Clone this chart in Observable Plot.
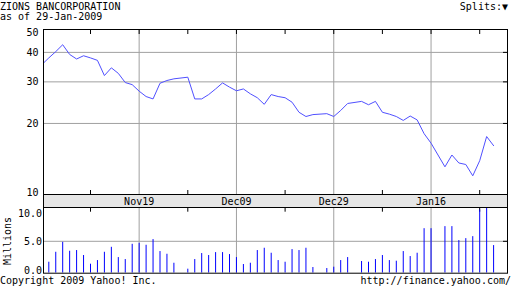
<!DOCTYPE html>
<html>
<head>
<meta charset="utf-8">
<script src="https://cdn.jsdelivr.net/npm/d3@7"></script>
<script src="https://cdn.jsdelivr.net/npm/@observablehq/plot@0.6"></script>
<style>
  html, body { margin: 0; padding: 0; background: #fff; }
  #chart { position: relative; width: 512px; height: 288px; overflow: hidden; background: #fff;
           font-family: "DejaVu Sans Mono", monospace; font-size: 10px; color: #000; }
  #chart svg { position: absolute; left: 0; top: 0; }
  .t { position: absolute; white-space: nowrap; line-height: 10px; }
  #band { position: absolute; left: 43px; top: 194px; width: 465px; height: 14px; box-sizing: border-box;
          background: #e6e6e6; border-left: 1px solid #000; border-right: 1px solid #000; }
</style>
</head>
<body>
<div id="chart">
  <div id="band"></div>
  <div class="t" style="left:0;top:2px">ZIONS BANCORPORATION</div>
  <div class="t" style="left:0;top:12px">as of 29-Jan-2009</div>
  <div class="t" style="right:4px;top:2px">Splits:▼</div>
  <div class="t" style="left:0;top:276px">Copyright 2009 Yahoo! Inc.</div>
  <div class="t" style="right:1px;top:276px">http://finance.yahoo.com/</div>
  <div class="t" style="left:7.5px;top:241px;transform:translate(-50%,-50%) rotate(-90deg)">Millions</div>
</div>
<script>
// ---- data ----
const dates = [
  "2008-10-30","2008-10-31","2008-11-03","2008-11-04","2008-11-05","2008-11-06","2008-11-07",
  "2008-11-10","2008-11-11","2008-11-12","2008-11-13","2008-11-14","2008-11-17","2008-11-18",
  "2008-11-19","2008-11-20","2008-11-21","2008-11-24","2008-11-25","2008-11-26","2008-11-28",
  "2008-12-01","2008-12-02","2008-12-03","2008-12-04","2008-12-05","2008-12-08","2008-12-09",
  "2008-12-10","2008-12-11","2008-12-12","2008-12-15","2008-12-16","2008-12-17","2008-12-18",
  "2008-12-19","2008-12-22","2008-12-23","2008-12-24","2008-12-26","2008-12-29","2008-12-30",
  "2008-12-31","2009-01-02","2009-01-05","2009-01-06","2009-01-07","2009-01-08","2009-01-09",
  "2009-01-12","2009-01-13","2009-01-14","2009-01-15","2009-01-16","2009-01-20","2009-01-21",
  "2009-01-22","2009-01-23","2009-01-26","2009-01-27","2009-01-28","2009-01-29"
];
const closes = [
  35.5, 37.9, 40.3, 43.1, 39.2, 37.5, 38.7,
  37.9, 37.0, 31.9, 34.4, 32.6, 29.8, 29.2,
  27.4, 26.0, 25.4, 29.6, 30.4, 30.9, 31.4,
  25.4, 25.4, 26.5, 28.0, 29.7, 28.5, 27.5,
  28.0, 26.7, 25.7, 24.1, 26.5, 26.0, 25.7,
  24.6, 22.3, 21.4, 21.8, 22.0, 21.4, 22.7,
  24.3, 24.8, 24.0, 24.8, 22.3, 21.9, 21.4,
  20.6, 21.5, 20.7, 18.1, 16.5, 13.1, 14.7,
  13.6, 13.4, 12.0, 13.9, 17.6, 16.1
];
// volume in millions (first day is before the visible window)
const volumes = [
  null, 1.72, 3.28, 4.84, 3.44, 3.55, 2.77,
  1.41, 1.98, 3.28, 4.06, 2.45, 2.14, 4.53,
  4.69, 4.38, 5.27, 3.39, 2.97, 1.56, 0.63,
  2.14, 3.08, 2.77, 3.23, 3.23, 2.92, 2.45,
  1.36, 1.56, 3.55, 3.91, 3.13, 1.98, 1.72,
  3.70, 3.55, 3.91, 0.89, 0.73, 0.94, 1.98,
  2.45, 1.83, 1.72, 2.14, 2.77, 1.98, 1.88,
  3.39, 2.61, 3.13, 6.98, 6.98, 7.30, 7.30,
  5.11, 5.42, 5.73, 9.9, 12.0, 4.33
];
const majorTickDates = ["2008-11-19","2008-12-09","2008-12-29","2009-01-16"];
const majorTickLabels = ["Nov19","Dec09","Dec29","Jan16"];
const minorTickDates = ["2008-11-10","2008-11-28","2008-12-18","2009-01-07","2009-01-27"];
const priceTicks = [10, 20, 30, 40, 50];
const priceGrid = [20, 30, 40];
const volTicks = [0, 5, 10];
const volTickLabels = ["0.0", "5.0", "10.0"];
const volGrid = [5];

// ---- weekday slot index (x position), holidays keep their slot ----
const t0 = Date.UTC(2008, 9, 31);
function slot(s) {
  const t = Date.parse(s + "T00:00:00Z");
  const step = t >= t0 ? 1 : -1;
  let n = 0;
  for (let u = t0; u !== t; u += step * 864e5) {
    const day = new Date(u + step * 864e5).getUTCDay();
    if (day !== 0 && day !== 6) n += step;
  }
  return n;
}
const priceData = dates.map((d, i) => ({slot: slot(d), close: closes[i]}));
const volData = dates.map((d, i) => ({slot: slot(d), vol: volumes[i]})).filter(d => d.vol != null);
const majorSlots = majorTickDates.map(slot);
const minorSlots = minorTickDates.map(slot);
const allSlots = majorSlots.concat(minorSlots);

const W = 512, H = 288, ML = 43, MR = 5;
const xDomain = [-0.763, 66.0];
const style = {fontFamily: "'DejaVu Sans Mono', monospace", fontSize: "10px", background: "none", overflow: "visible", color: "#000"};
const gridColor = "#a0a0a0";
const ax = {tickSize: 0, label: null};

const price = Plot.plot({
  width: W, height: H, marginTop: 29, marginBottom: 94, marginLeft: ML, marginRight: MR,
  style,
  x: {type: "linear", domain: xDomain, axis: null, label: null},
  y: {type: "log", domain: [10, 50], axis: null, label: null},
  marks: [
    Plot.ruleX(majorSlots, {x: d => d, stroke: gridColor, strokeOpacity: 1}),
    Plot.ruleY(priceGrid, {y: d => d, stroke: gridColor, strokeOpacity: 1}),
    Plot.tickX(allSlots, {x: d => d, insetBottom: 160, stroke: "#000"}),
    Plot.tickX(minorSlots, {x: d => d, insetTop: 161, stroke: "#000"}),
    Plot.tickY(priceGrid, {y: d => d, insetLeft: 460, stroke: "#000"}),
    Plot.lineY(priceData, {x: "slot", y: "close", stroke: "#5050ff", strokeWidth: 1, clip: true}),
    Plot.frame({stroke: "#000"}),
    Plot.axisY(priceGrid, {...ax, anchor: "left", tickPadding: 5, tickFormat: d => String(d)}),
    Plot.axisY([priceTicks[4]], {...ax, anchor: "left", tickPadding: 5, dy: 3, tickFormat: d => String(d)}),
    Plot.axisY([priceTicks[0]], {...ax, anchor: "left", tickPadding: 5, dy: -2, tickFormat: d => String(d)}),
    Plot.axisX(majorSlots, {...ax, anchor: "bottom", tickPadding: 3,
      tickFormat: d => majorTickLabels[majorSlots.indexOf(d)]})
  ]
});

const volume = Plot.plot({
  width: W, height: H, marginTop: 207, marginBottom: 15.3, marginLeft: ML, marginRight: MR,
  style,
  x: {type: "linear", domain: xDomain, axis: null, label: null},
  y: {type: "linear", domain: [0, 10.3], axis: null, label: null},
  marks: [
    Plot.ruleX(majorSlots, {x: d => d, stroke: gridColor, strokeOpacity: 1}),
    Plot.ruleY(volGrid, {y: d => d, stroke: gridColor, strokeOpacity: 1}),
    Plot.tickX(minorSlots, {x: d => d, insetBottom: 61, stroke: "#000"}),
    Plot.tickY(volGrid, {y: d => d, insetLeft: 460, stroke: "#000"}),
    Plot.ruleX(volData, {x: "slot", y1: 0, y2: "vol", stroke: "#0000ff", strokeWidth: 1, clip: true}),
    Plot.frame({stroke: "#000"}),
    Plot.axisY([volTicks[1]], {...ax, anchor: "left", tickPadding: 1.5,
      tickFormat: d => volTickLabels[volTicks.indexOf(d)]}),
    Plot.axisY([volTicks[2]], {...ax, anchor: "left", tickPadding: 1.5, dy: 4,
      tickFormat: d => volTickLabels[volTicks.indexOf(d)]}),
    Plot.axisY([volTicks[0]], {...ax, anchor: "left", tickPadding: 1.5, dy: -2.5,
      tickFormat: d => volTickLabels[volTicks.indexOf(d)]})
  ]
});

const chart = document.getElementById("chart");
chart.appendChild(price);
chart.appendChild(volume);
</script>
</body>
</html>
